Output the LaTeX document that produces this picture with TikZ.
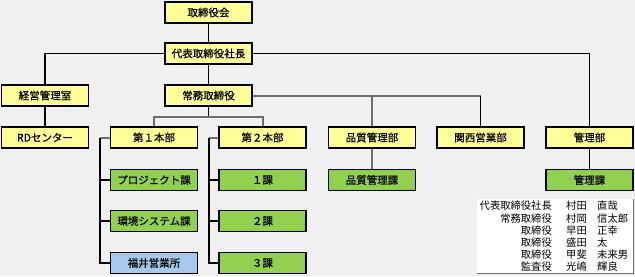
\documentclass[tikz,border=0pt]{standalone}
\usepackage{fontspec}
\newfontfamily\jp{Noto Sans CJK JP}
\newfontfamily\jpb[FakeBold=0.6]{Noto Sans CJK JP}
\definecolor{bgc}{HTML}{F0F0F0}
\definecolor{yel}{HTML}{FFFF99}
\definecolor{grn}{HTML}{92D050}
\definecolor{blu}{HTML}{A6C8EC}
\definecolor{lgray}{HTML}{6E6E6E}
\begin{document}
\begin{tikzpicture}[x=1pt,y=-1pt,
  box/.style={draw=black,line width=1.3pt,minimum width=87pt,minimum height=21pt,inner sep=0pt,
    font=\jpb\fontsize{10.5}{12}\selectfont,text=black},
  yb/.style={box,fill=yel},
  gb/.style={box,fill=grn},
  bb/.style={box,fill=blu},
  ln/.style={draw=black,line width=1.5pt},
  gln/.style={draw=lgray,line width=2pt},
  lg/.style={font=\jp\fontsize{10.3}{12}\selectfont,inner sep=0pt,text=black}]
\useasboundingbox (0,0) rectangle (635,276);
\fill[bgc] (0,0) rectangle (635,276);
\coordinate (j1) at (208.5,117);
\coordinate (j2) at (372,96);
\coordinate (b1) at (100,137.5);
\coordinate (b2) at (209,137.5);
% nodes
\node[yb] (tk) at (208.5,12.5) {取締役会};
\node[yb] (ceo) at (208.5,53.5) {代表取締役社長};
\node[yb] (kei) at (45,95.5) {経営管理室};
\node[yb] (jom) at (208.5,95.5) {常務取締役};
\node[yb] (rd) at (45,137.5) {RDセンター};
\node[yb] (h1) at (154,137.5) {第１本部};
\node[yb] (h2) at (262.5,137.5) {第２本部};
\node[yb] (hin) at (372,137.5) {品質管理部};
\node[yb] (kan) at (480.5,137.5) {関西営業部};
\node[yb] (kri) at (589.5,137.5) {管理部};
\node[gb] (pro) at (154,180) {プロジェクト課};
\node[gb] (kyo) at (154,221) {環境システム課};
\node[bb] (fuk) at (154,263) {福井営業所};
\node[gb] (k1) at (262.5,180) {１課};
\node[gb] (k2) at (262.5,221) {２課};
\node[gb] (k3) at (262.5,263) {３課};
\node[gb] (hinka) at (372,180) {品質管理課};
\node[gb] (krika) at (589.5,180) {管理課};
% lines
\draw[ln] (tk.south) -- (ceo.north);
\draw[ln] (ceo.west) -| (kei.north);
\draw[ln] (ceo.east) -| (kri.north);
\draw[ln] (ceo.south) -- (jom.north);
\draw[ln] (kei.south) -- (rd.north);
\draw[gln] (jom.east) -- (kan.north |- jom.east);
\draw[ln] (kan.north |- jom.east) -- (kan.north);
\draw[gln] (j2) -- (hin.north);
\draw[ln] (jom.south) -- (j1);
\draw[gln] (h1.north) |- (j1) -| (h2.north);
\draw[gln] (h1.west) -- (b1);
\draw[ln] (b1) |- (fuk.west);
\draw[ln] (pro.west) -- (pro.west -| b1);
\draw[ln] (kyo.west) -- (kyo.west -| b1);
\draw[gln] (h2.west) -- (b2);
\draw[ln] (b2) |- (k3.west);
\draw[ln] (k1.west) -- (k1.west -| b2);
\draw[ln] (k2.west) -- (k2.west -| b2);
\draw[gln] (hin.south) -- (hinka.north);
\draw[ln] (kri.south) -- (krika.north);
% legend
\node[fill=white,draw=none,minimum width=156pt,minimum height=74pt,inner sep=0pt] (leg) at (555,236) {};
\draw[lgray,line width=1pt] (leg.north east) -- (leg.south east) -- (leg.south west);
\node[lg,anchor=east] (r1) at (552,206) {代表取締役社長};
\node[lg,anchor=east] (r2) at (552,218.2) {常務取締役};
\node[lg,anchor=east] (r3) at (552,230.4) {取締役};
\node[lg,anchor=east] (r4) at (552,242.6) {取締役};
\node[lg,anchor=east] (r5) at (552,254.8) {取締役};
\node[lg,anchor=east] (r6) at (552,267) {監査役};
\node[lg,anchor=west] (s1) at (566,206) {村田};
\node[lg,anchor=west] (s2) at (566,218.2) {村岡};
\node[lg,anchor=west] (s3) at (566,230.4) {早田};
\node[lg,anchor=west] (s4) at (566,242.6) {盛田};
\node[lg,anchor=west] (s5) at (566,254.8) {甲斐};
\node[lg,anchor=west] (s6) at (566,267) {光嶋};
\node[lg,anchor=west] (g1) at (597,206) {直哉};
\node[lg,anchor=west] (g2) at (597,218.2) {信太郎};
\node[lg,anchor=west] (g3) at (597,230.4) {正幸};
\node[lg,anchor=west] (g4) at (597,242.6) {太};
\node[lg,anchor=west] (g5) at (597,254.8) {未来男};
\node[lg,anchor=west] (g6) at (597,267) {輝良};
\end{tikzpicture}
\end{document}
